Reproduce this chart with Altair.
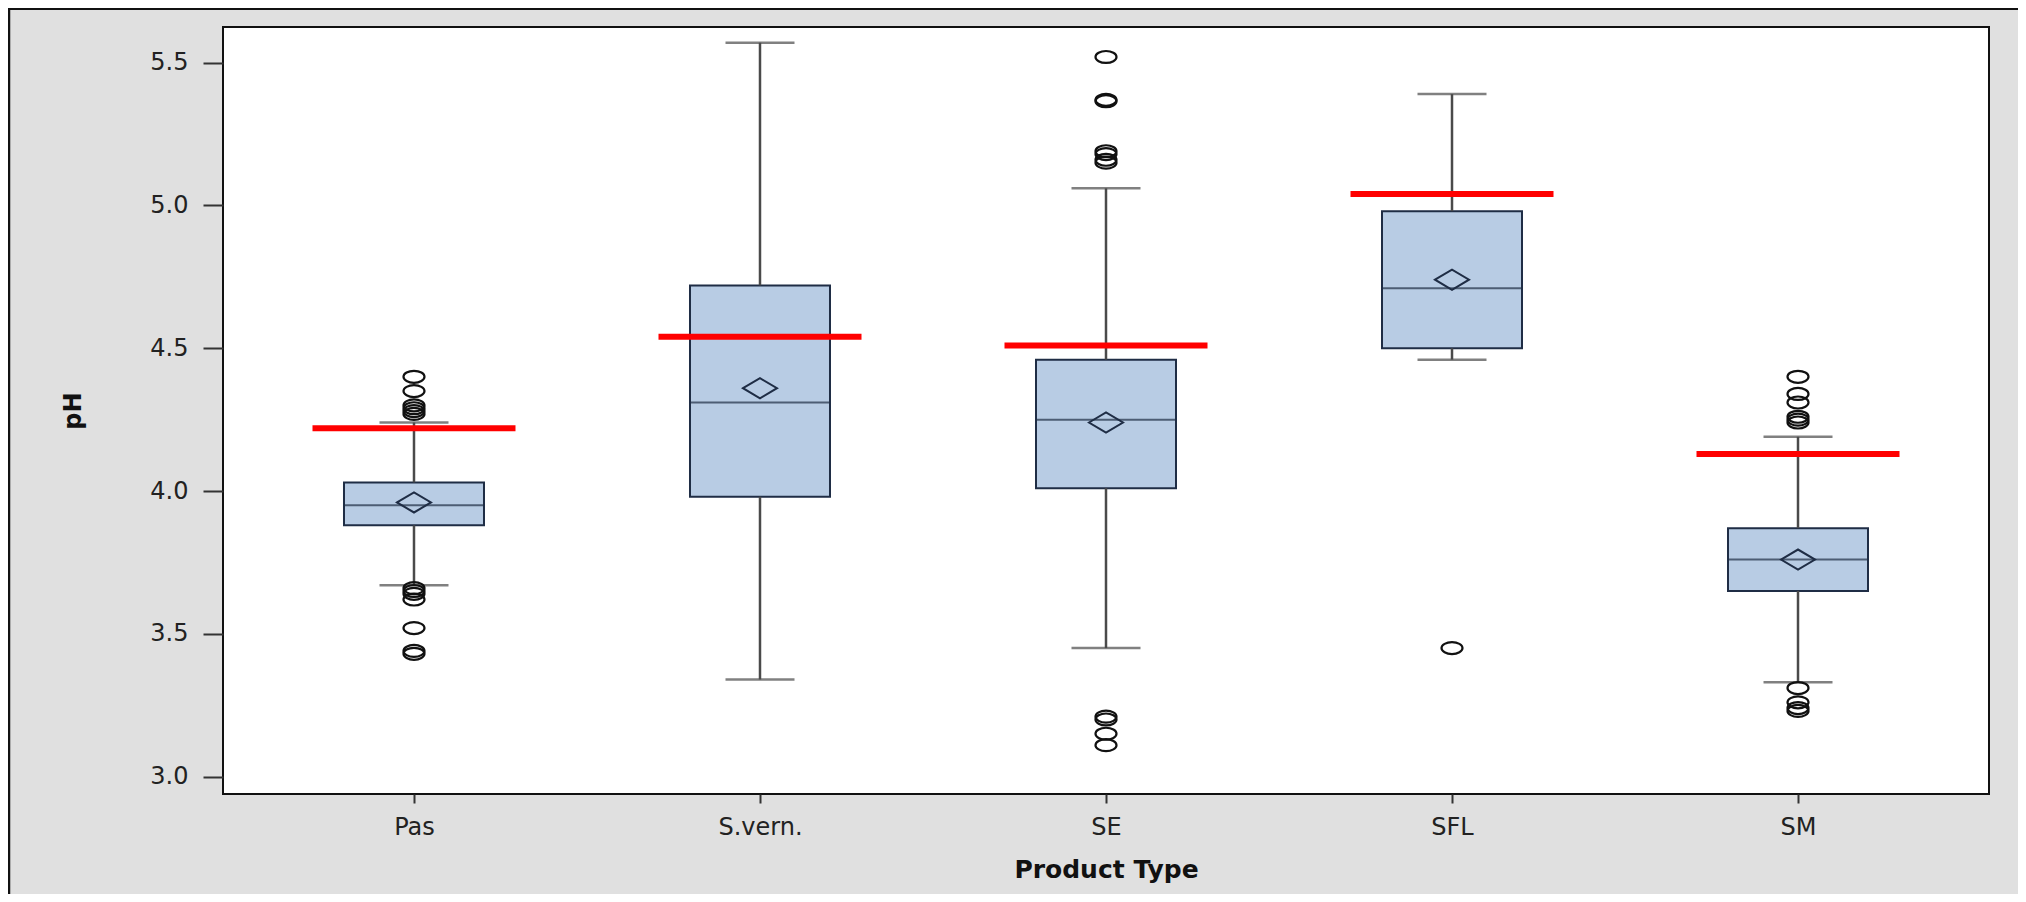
import altair as alt
import pandas as pd

# ---- data ----
categories = ["Pas", "S.vern.", "SE", "SFL", "SM"]
q1 = [3.88, 3.98, 4.01, 4.50, 3.65]
median = [3.95, 4.31, 4.25, 4.71, 3.76]
q3 = [4.03, 4.72, 4.46, 4.98, 3.87]
whisker_low = [3.67, 3.34, 3.45, 4.46, 3.33]
whisker_high = [4.24, 5.57, 5.06, 5.39, 4.19]
mean = [3.96, 4.36, 4.24, 4.74, 3.76]
reference = [4.22, 4.54, 4.51, 5.04, 4.13]

outliers_pas = [4.40, 4.35, 4.30, 4.29, 4.28, 4.27, 3.66, 3.65, 3.64, 3.62, 3.52, 3.44, 3.43]
outliers_svern = []
outliers_se = [5.52, 5.37, 5.365, 5.19, 5.18, 5.16, 5.15, 3.21, 3.20, 3.15, 3.11]
outliers_sfl = [3.45]
outliers_sm = [4.40, 4.34, 4.31, 4.26, 4.25, 4.24, 3.31, 3.26, 3.24, 3.23]

y_ticks = [3.0, 3.5, 4.0, 4.5, 5.0, 5.5]

# ---- tables ----
stats = pd.DataFrame({
    "cat": categories, "q1": q1, "median": median, "q3": q3,
    "lo": whisker_low, "hi": whisker_high, "mean": mean, "ref": reference,
})
out_lists = [outliers_pas, outliers_svern, outliers_se, outliers_sfl, outliers_sm]
out_rows = [{"cat": c, "v": v} for c, lst in zip(categories, out_lists) for v in lst]
outl = pd.DataFrame(out_rows)

FONT = "DejaVu Sans"
BOX_FILL = "#b8cce4"
DARK = "#1f2d45"
WHISK = "#4a4a4a"

xs = alt.Scale(type="point", domain=categories, padding=0.552)
ys = alt.Scale(domain=[2.939, 5.625], nice=False, zero=False)

x_enc = alt.X("cat:N", scale=xs, sort=categories,
              axis=alt.Axis(title="Product Type", labelAngle=0, tickSize=9,
                            labelPadding=12, domain=False, tickColor="#333",
                            tickWidth=2, labelColor="#222", labelFont=FONT,
                            labelFontSize=24, titleFont=FONT, titleFontSize=25,
                            titleFontWeight="bold", titleColor="#111",
                            titleY=83, titleBaseline="alphabetic"))
x_plain = alt.X("cat:N", scale=xs, sort=categories)

y_axis = alt.Axis(title="pH", values=y_ticks, format=".1f", grid=False,
                  tickSize=20, labelPadding=15, domain=False, tickColor="#333",
                  tickWidth=2, labelColor="#222", labelFont=FONT, labelFontSize=24,
                  titleFont=FONT, titleFontSize=24, titleFontWeight="bold",
                  titleColor="#111", titleX=-143, titleBaseline="alphabetic")

base = alt.Chart(stats)

box = base.mark_bar(size=140, fill=BOX_FILL, stroke=DARK, strokeWidth=2).encode(
    x=x_enc, y=alt.Y("q1:Q", scale=ys, axis=y_axis), y2="q3:Q")

whisk_up = base.mark_rule(color=WHISK, strokeWidth=2.5).encode(
    x=x_plain, y=alt.Y("q3:Q", scale=ys), y2="hi:Q")
whisk_dn = base.mark_rule(color=WHISK, strokeWidth=2.5).encode(
    x=x_plain, y=alt.Y("lo:Q", scale=ys), y2="q1:Q")

cap_hi = base.mark_tick(size=69, thickness=2.5, color=WHISK).encode(
    x=x_plain, y=alt.Y("hi:Q", scale=ys))
cap_lo = base.mark_tick(size=69, thickness=2.5, color=WHISK).encode(
    x=x_plain, y=alt.Y("lo:Q", scale=ys))

med = base.mark_tick(size=140, thickness=2, color=DARK).encode(
    x=x_plain, y=alt.Y("median:Q", scale=ys))

ellipse = "M-1,0A1,0.57,0,1,1,1,0A1,0.57,0,1,1,-1,0Z"
outs = alt.Chart(outl).mark_point(shape=ellipse, size=441, filled=False,
                                  color="#111", strokeWidth=2.2, opacity=1).encode(
    x=x_plain, y=alt.Y("v:Q", scale=ys))

diamond = "M-1,0L0,-0.59L1,0L0,0.59Z"
means = base.mark_point(shape=diamond, size=1156, filled=False, color=DARK,
                        strokeWidth=2, opacity=1).encode(
    x=x_plain, y=alt.Y("mean:Q", scale=ys))

refl = base.mark_tick(size=203, thickness=6, color="#ff0000", opacity=1).encode(
    x=x_plain, y=alt.Y("ref:Q", scale=ys))

deco = alt.Chart(pd.DataFrame({"a": [0]}))
border_left = deco.mark_rule(color="#111", strokeWidth=2.5).encode(
    x=alt.value(-214), y=alt.value(-19), y2=alt.value(867))
border_top = deco.mark_rule(color="#111", strokeWidth=2).encode(
    x=alt.value(-215), x2=alt.value(1795), y=alt.value(-18))

chart = alt.layer(box, whisk_up, whisk_dn, cap_hi, cap_lo, med, outs, means, refl,
                  border_left, border_top).properties(
    width=1766, height=767,
    background="#e0e0e0",
    padding={"left": 215, "top": 19, "right": 29, "bottom": 100},
    autosize=alt.AutoSizeParams(type="none"),
).configure_view(stroke="#111", strokeWidth=2, fill="white")

chart.save("out.html", embed_options={"renderer": "svg", "actions": False})
